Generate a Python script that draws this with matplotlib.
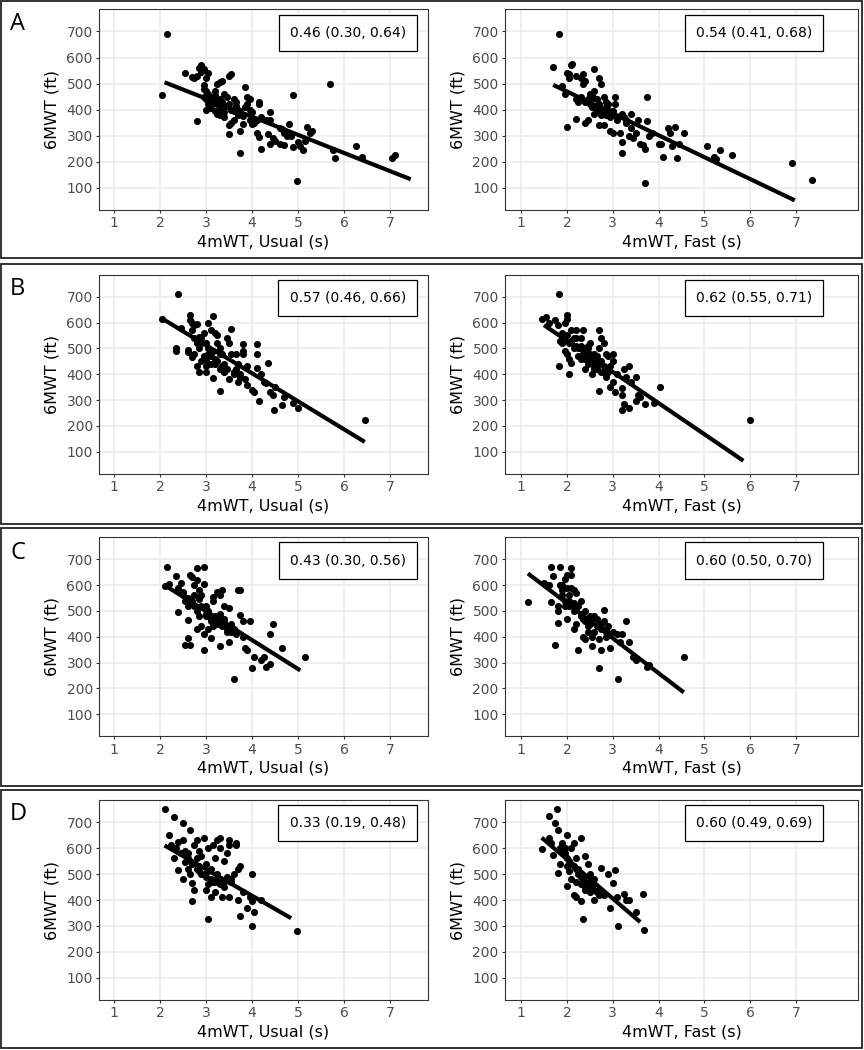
import matplotlib
matplotlib.use("Agg")
import matplotlib.pyplot as plt
from matplotlib.patches import Rectangle

# ---- data (4mWT seconds, 6MWT feet) ----
a_usual_x = [2.15, 2.05, 2.55, 2.7, 2.75, 2.8, 2.85, 2.9, 2.95, 2.9, 3.0, 3.05, 2.95, 2.95, 3.0, 3.05,
             2.8, 2.95, 3.0, 3.0, 3.05, 3.1, 3.2, 3.25, 3.3, 3.35, 3.5, 3.55, 3.2, 3.25, 3.3, 3.35,
             3.4, 3.45, 3.5, 3.4, 3.3, 3.25, 3.5, 3.5, 3.55, 3.6, 3.6, 3.65, 3.7, 3.75, 3.7, 3.75,
             3.8, 3.75, 3.85, 3.9, 3.95, 3.9, 3.85, 3.95, 4.0, 3.95, 4.0, 4.05, 4.1, 4.1, 4.15, 4.2,
             4.15, 4.15, 4.2, 4.3, 4.4, 4.4, 4.35, 4.4, 4.45, 4.5, 4.6, 4.65, 4.7, 4.75, 4.8, 4.6,
             4.7, 4.85, 4.9, 4.9, 4.97, 5.0, 5.05, 5.1, 5.15, 5.2, 5.25, 5.3, 5.7, 5.75, 5.8, 6.25,
             6.4, 7.05, 7.1, 3.1, 3.15, 3.2, 3.3, 3.35, 3.45, 3.55, 3.65, 3.8, 3.1, 3.2, 3.4, 3.6]
a_usual_y = [690, 455, 540, 525, 520, 530, 560, 570, 555, 545, 520, 540, 495, 480, 470, 460,
             355, 450, 440, 400, 420, 430, 470, 500, 505, 510, 530, 535, 440, 420, 410, 400,
             460, 450, 420, 390, 380, 385, 305, 340, 350, 360, 440, 430, 400, 395, 380, 320,
             345, 235, 485, 450, 440, 420, 410, 400, 390, 360, 345, 350, 360, 310, 295, 250,
             430, 420, 370, 360, 390, 360, 305, 270, 290, 280, 330, 325, 310, 300, 345, 270,
             265, 300, 455, 255, 125, 275, 260, 245, 280, 335, 310, 320, 500, 245, 215, 262,
             220, 215, 225, 445, 425, 455, 440, 430, 415, 400, 415, 375, 405, 395, 370, 395]

a_fast_x = [1.82, 1.7, 1.9, 1.95, 2.0, 2.05, 2.1, 2.12, 2.05, 2.0, 2.2, 2.2, 2.25, 2.2, 2.3, 2.35,
            2.35, 2.4, 2.3, 2.4, 2.45, 2.4, 2.5, 2.55, 2.6, 2.6, 2.65, 2.6, 2.7, 2.75, 2.7, 2.7,
            2.75, 2.8, 2.85, 2.85, 2.8, 2.9, 2.9, 2.95, 2.95, 3.0, 3.0, 3.05, 3.05, 3.1, 3.15, 3.2,
            3.25, 3.2, 3.2, 3.3, 3.35, 3.4, 3.4, 3.45, 3.5, 3.55, 3.6, 3.65, 3.7, 3.75, 3.7, 3.75,
            3.8, 3.85, 4.0, 4.05, 4.1, 4.2, 4.25, 4.3, 4.35, 4.4, 4.45, 4.55, 5.05, 5.2, 5.25, 5.35,
            5.6, 6.9, 7.35, 2.5, 2.55, 2.65, 2.75, 2.8, 2.9, 3.0, 3.1, 3.15, 3.3, 2.45, 2.6, 2.85]
a_fast_y = [690, 562, 490, 460, 540, 535, 570, 575, 520, 335, 530, 440, 430, 365, 520, 535,
            500, 510, 450, 430, 360, 350, 460, 450, 555, 470, 440, 385, 520, 500, 420, 340,
            400, 450, 430, 380, 340, 420, 400, 370, 320, 310, 380, 450, 420, 360, 310, 385,
            370, 275, 235, 350, 300, 385, 330, 290, 310, 360, 270, 265, 250, 355, 120, 450,
            300, 310, 270, 270, 220, 330, 310, 260, 335, 215, 270, 310, 260, 218, 210, 245,
            225, 195, 130, 420, 410, 400, 380, 395, 390, 395, 370, 375, 360, 440, 445, 410]

b_usual_x = [2.4, 2.05, 2.35, 2.35, 2.45, 2.6, 2.6, 2.65, 2.65, 2.7, 2.75, 2.8, 2.7, 2.75, 2.8, 2.85,
             2.7, 2.75, 2.8, 2.85, 2.9, 2.9, 2.95, 3.0, 3.05, 3.05, 3.0, 3.1, 3.1, 3.15, 3.2, 3.15,
             3.2, 3.15, 3.25, 3.25, 3.3, 3.3, 3.3, 3.35, 3.4, 3.45, 3.5, 3.5, 3.55, 3.55, 3.65, 3.65,
             3.7, 3.7, 3.75, 3.8, 3.8, 3.8, 3.85, 3.9, 4.0, 4.05, 4.1, 4.1, 4.1, 4.15, 4.2, 4.25,
             4.3, 4.35, 4.4, 4.45, 4.5, 4.47, 4.65, 4.7, 4.9, 5.0, 6.45, 2.9, 2.95, 3.0, 3.05, 3.1,
             3.2, 3.25, 3.35, 3.4, 3.45, 3.6, 3.75, 2.85, 3.0, 3.3, 3.6, 3.9]
b_usual_y = [710, 615, 500, 490, 580, 495, 485, 630, 610, 600, 590, 595, 570, 540, 520, 500,
             465, 480, 430, 410, 450, 540, 560, 520, 600, 480, 410, 440, 570, 625, 560, 490,
             460, 385, 550, 520, 500, 420, 335, 480, 410, 540, 520, 380, 575, 480, 480, 420,
             440, 370, 400, 515, 490, 480, 380, 360, 340, 330, 515, 480, 425, 295, 400, 370,
             365, 445, 330, 320, 350, 262, 280, 310, 290, 270, 222, 520, 470, 455, 500, 470,
             440, 450, 430, 440, 420, 410, 390, 545, 430, 480, 400, 430]

b_fast_x = [1.82, 1.45, 1.55, 1.6, 1.75, 1.8, 1.82, 1.85, 1.9, 1.95, 2.0, 2.0, 1.95, 2.0, 2.05, 2.05,
            2.1, 2.1, 2.15, 2.2, 2.2, 2.25, 2.25, 2.3, 2.35, 2.35, 2.4, 2.4, 2.45, 2.45, 2.5, 2.5,
            2.55, 2.6, 2.6, 2.65, 2.65, 2.7, 2.7, 2.7, 2.75, 2.75, 2.8, 2.8, 2.85, 2.85, 2.9, 2.95,
            2.95, 3.0, 3.0, 3.0, 3.05, 3.1, 3.2, 3.2, 3.2, 3.25, 3.25, 3.3, 3.35, 3.35, 3.4, 3.5,
            3.5, 3.55, 3.6, 3.7, 3.9, 4.03, 6.0, 2.0, 2.1, 2.15, 2.2, 2.3, 2.35, 2.4, 2.5, 2.55,
            2.6, 2.7, 2.8, 2.9, 2.3, 2.45, 2.6, 2.75, 1.9, 2.05]
b_fast_y = [710, 615, 620, 600, 610, 590, 430, 530, 520, 600, 630, 615, 490, 480, 460, 400,
            445, 570, 540, 570, 510, 500, 470, 540, 570, 480, 420, 460, 500, 510, 520, 450,
            400, 480, 430, 470, 420, 570, 500, 335, 540, 450, 410, 520, 480, 390, 470, 430,
            350, 480, 450, 370, 330, 400, 345, 320, 262, 420, 285, 390, 430, 270, 370, 390,
            295, 320, 310, 285, 290, 350, 222, 550, 530, 500, 540, 510, 500, 480, 480, 460,
            450, 440, 430, 410, 460, 440, 420, 410, 560, 520]

c_usual_x = [2.1, 2.15, 2.2, 2.35, 2.4, 2.4, 2.45, 2.5, 2.55, 2.6, 2.6, 2.6, 2.55, 2.65, 2.65, 2.7,
             2.75, 2.8, 2.8, 2.85, 2.85, 2.9, 2.95, 2.95, 2.75, 2.8, 2.85, 2.8, 2.9, 2.95, 2.95, 3.0,
             3.0, 3.05, 3.05, 3.1, 3.1, 3.15, 3.15, 3.2, 3.2, 3.25, 3.3, 3.35, 3.3, 3.3, 3.35, 3.4,
             3.4, 3.45, 3.45, 3.5, 3.5, 3.55, 3.6, 3.6, 3.65, 3.7, 3.75, 3.75, 3.8, 3.8, 3.85, 3.9,
             3.95, 4.0, 4.05, 4.2, 4.25, 4.3, 4.4, 4.4, 4.45, 4.65, 5.15, 2.5, 2.6, 2.7, 2.9, 3.0,
             3.1, 3.2, 3.25, 3.35, 3.45, 3.55, 2.65, 2.75, 3.05, 3.15, 3.4]
c_usual_y = [595, 670, 605, 635, 590, 495, 610, 560, 540, 520, 465, 395, 370, 370, 640, 630,
             600, 665, 620, 580, 545, 560, 670, 605, 520, 500, 480, 430, 440, 410, 350, 520,
             490, 500, 430, 395, 460, 540, 555, 480, 470, 575, 560, 580, 490, 365, 440, 520,
             460, 420, 440, 510, 380, 450, 430, 235, 410, 580, 580, 485, 460, 400, 355, 350,
             460, 280, 320, 310, 320, 285, 295, 410, 450, 355, 320, 575, 550, 540, 520, 480,
             470, 460, 450, 455, 430, 420, 530, 560, 480, 440, 470]

c_fast_x = [1.15, 1.5, 1.6, 1.65, 1.65, 1.7, 1.75, 1.8, 1.8, 1.8, 1.85, 1.85, 1.9, 1.9, 1.95, 1.95,
            2.0, 2.0, 2.05, 2.05, 2.1, 2.1, 2.1, 2.15, 2.15, 2.15, 2.2, 2.2, 2.25, 2.25, 2.3, 2.3,
            2.35, 2.35, 2.4, 2.4, 2.45, 2.45, 2.5, 2.55, 2.55, 2.55, 2.6, 2.6, 2.65, 2.7, 2.7, 2.75,
            2.75, 2.8, 2.8, 2.85, 2.85, 2.9, 2.95, 3.0, 3.1, 3.15, 3.12, 3.2, 3.3, 3.35, 3.45, 3.5,
            3.75, 3.8, 4.55, 1.9, 2.0, 2.05, 2.2, 2.3, 2.4, 2.5, 2.65, 2.75, 2.85, 2.9, 1.95, 2.15]
c_fast_y = [535, 610, 600, 670, 535, 635, 370, 520, 500, 455, 670, 600, 580, 560, 625, 520,
            640, 470, 540, 560, 665, 640, 590, 580, 500, 430, 570, 450, 350, 520, 540, 490,
            470, 400, 390, 500, 440, 420, 480, 470, 400, 365, 480, 420, 470, 390, 278, 450,
            350, 505, 460, 430, 400, 440, 355, 420, 410, 380, 235, 410, 460, 380, 320, 310,
            285, 290, 320, 600, 590, 520, 510, 480, 460, 450, 440, 430, 420, 410, 540, 530]

d_usual_x = [2.1, 2.3, 2.5, 2.65, 2.2, 2.25, 2.3, 2.35, 2.4, 2.4, 2.5, 2.5, 2.55, 2.55, 2.6, 2.6,
             2.65, 2.7, 2.7, 2.75, 2.75, 2.8, 2.8, 2.85, 2.85, 2.9, 2.95, 2.95, 3.0, 3.0, 3.05, 3.05,
             3.05, 3.1, 3.1, 3.15, 3.15, 3.2, 3.2, 3.25, 3.25, 3.3, 3.3, 3.3, 3.35, 3.4, 3.4, 3.45,
             3.45, 3.5, 3.5, 3.5, 3.55, 3.6, 3.65, 3.65, 3.7, 3.7, 3.75, 3.75, 3.8, 3.9, 3.95, 4.0,
             4.0, 4.0, 4.05, 4.2, 4.98, 2.45, 2.6, 2.7, 2.8, 2.9, 3.0, 3.1, 3.2, 3.3, 3.4, 2.65,
             2.85, 3.05, 3.25, 3.55]
d_usual_y = [750, 720, 695, 670, 650, 610, 560, 600, 625, 515, 480, 630, 590, 545, 580, 520,
             500, 465, 395, 440, 610, 630, 560, 590, 510, 570, 640, 500, 540, 440, 600, 460,
             325, 410, 520, 610, 470, 560, 430, 630, 500, 640, 600, 480, 410, 550, 450, 580,
             490, 630, 610, 410, 470, 500, 620, 610, 520, 400, 530, 340, 430, 370, 410, 500,
             395, 300, 355, 400, 282, 580, 560, 540, 520, 500, 490, 480, 470, 460, 470, 550,
             530, 510, 480, 480]

d_fast_x = [1.78, 1.62, 1.75, 1.8, 1.45, 1.6, 1.65, 1.7, 1.8, 1.85, 1.9, 1.95, 2.0, 2.0, 2.05, 2.1,
            2.15, 2.15, 2.2, 2.2, 2.25, 2.3, 2.3, 2.35, 2.35, 2.4, 2.4, 2.45, 2.5, 2.5, 2.55, 2.6,
            2.6, 2.7, 2.75, 2.8, 2.9, 2.95, 3.0, 3.05, 3.1, 3.12, 3.25, 3.3, 3.35, 3.5, 3.65, 3.68,
            1.9, 1.95, 2.0, 2.05, 2.1, 2.15, 2.2, 2.25, 2.3, 2.35, 2.4, 2.45, 2.5, 2.55, 2.6, 2.65,
            2.7, 2.1, 2.2, 2.3, 2.4, 2.5, 1.85, 2.0]
d_fast_y = [750, 722, 695, 670, 595, 640, 620, 575, 505, 540, 620, 600, 650, 455, 510, 600,
            620, 420, 560, 410, 520, 640, 395, 325, 480, 570, 450, 540, 500, 430, 470, 480,
            400, 440, 525, 420, 500, 370, 465, 515, 410, 300, 425, 400, 400, 355, 425, 285,
            590, 580, 560, 550, 540, 530, 520, 500, 490, 480, 470, 460, 450, 450, 440, 430,
            420, 480, 470, 460, 440, 470, 600, 530]

# fitted lm lines: endpoints
fit_x = {"A1": [2.1, 7.45], "A2": [1.7, 6.97], "B1": [2.05, 6.45], "B2": [1.5, 5.85],
         "C1": [2.1, 5.05], "C2": [1.15, 4.55], "D1": [2.1, 4.85], "D2": [1.45, 3.6]}
fit_y = {"A1": [505, 133], "A2": [495, 52], "B1": [615, 138], "B2": [590, 65],
         "C1": [600, 270], "C2": [645, 185], "D1": [610, 330], "D2": [640, 315]}

ci_labels = {"A1": "0.46 (0.30, 0.64)", "A2": "0.54 (0.41, 0.68)",
             "B1": "0.57 (0.46, 0.66)", "B2": "0.62 (0.55, 0.71)",
             "C1": "0.43 (0.30, 0.56)", "C2": "0.60 (0.50, 0.70)",
             "D1": "0.33 (0.19, 0.48)", "D2": "0.60 (0.49, 0.69)"}

rows = ["A", "B", "C", "D"]
points = {
    "A1": (a_usual_x, a_usual_y), "A2": (a_fast_x, a_fast_y),
    "B1": (b_usual_x, b_usual_y), "B2": (b_fast_x, b_fast_y),
    "C1": (c_usual_x, c_usual_y), "C2": (c_fast_x, c_fast_y),
    "D1": (d_usual_x, d_usual_y), "D2": (d_fast_x, d_fast_y),
}
x_titles = ["4mWT, Usual (s)", "4mWT, Fast (s)"]

# ---- layout (pixel geometry of the reference) ----
W, H = 864, 1050
fig = plt.figure(figsize=(W / 100, H / 100), dpi=100)
fig.patch.set_facecolor("white")


def frac(x0, y0, x1, y1):
    return [x0 / W, 1 - y1 / H, (x1 - x0) / W, (y1 - y0) / H]


row_boxes = [(1, 1, 862, 258), (1, 264, 862, 524), (1, 528, 862, 786), (1, 790, 862, 1048)]
ax_tops = [9.3, 274.7, 537.3, 800]
ax_bots = [210, 473.7, 736.3, 1000]
col_x = [(99, 428), (505, 858)]
col_xlim = [(0.675, 7.825), (0.65, 8.35)]
letter_tops = [12, 277, 541, 802]

for r, name in enumerate(rows):
    bx0, by0, bx1, by1 = row_boxes[r]
    fig.patches.append(Rectangle((bx0 / W, 1 - by1 / H), (bx1 - bx0) / W, (by1 - by0) / H,
                                 transform=fig.transFigure, fill=False,
                                 edgecolor="#222222", lw=1.3, zorder=0))
    fig.text(10 / W, 1 - letter_tops[r] / H, name, fontsize=17, family="Open Sans",
             ha="left", va="top", color="black")

    for c in range(2):
        key = f"{name}{c + 1}"
        x0, x1 = col_x[c]
        ax = fig.add_axes(frac(x0, ax_tops[r], x1, ax_bots[r]))
        xs, ys = points[key]
        ax.scatter(xs, ys, s=26, color="black", linewidths=0, zorder=3)
        ax.plot(fit_x[key], fit_y[key], color="black", lw=3.0,
                solid_capstyle="butt", zorder=4)
        ax.text(6.08, 695, ci_labels[key], fontsize=10, ha="center", va="center",
                family="DejaVu Sans", zorder=5,
                bbox=dict(boxstyle="square,pad=0.8", fc="white", ec="black", lw=0.9))

        ax.set_xlim(*col_xlim[c])
        ax.set_ylim(15, 785)
        ax.set_xticks(range(1, 8))
        ax.set_yticks(range(100, 800, 100))
        ax.grid(True, color="#EBEBEB", lw=1.1, zorder=0)
        ax.set_axisbelow(True)
        for sp in ax.spines.values():
            sp.set_color("#333333")
            sp.set_linewidth(0.8)
        ax.tick_params(length=2.5, width=0.8, color="#333333", labelcolor="#4D4D4D",
                       labelsize=10, pad=2)
        ax.set_xlabel(x_titles[c], fontsize=11.5, labelpad=3)
        ax.set_ylabel("6MWT (ft)", fontsize=11.5, labelpad=5)

fig.savefig("out.png", dpi=100)
